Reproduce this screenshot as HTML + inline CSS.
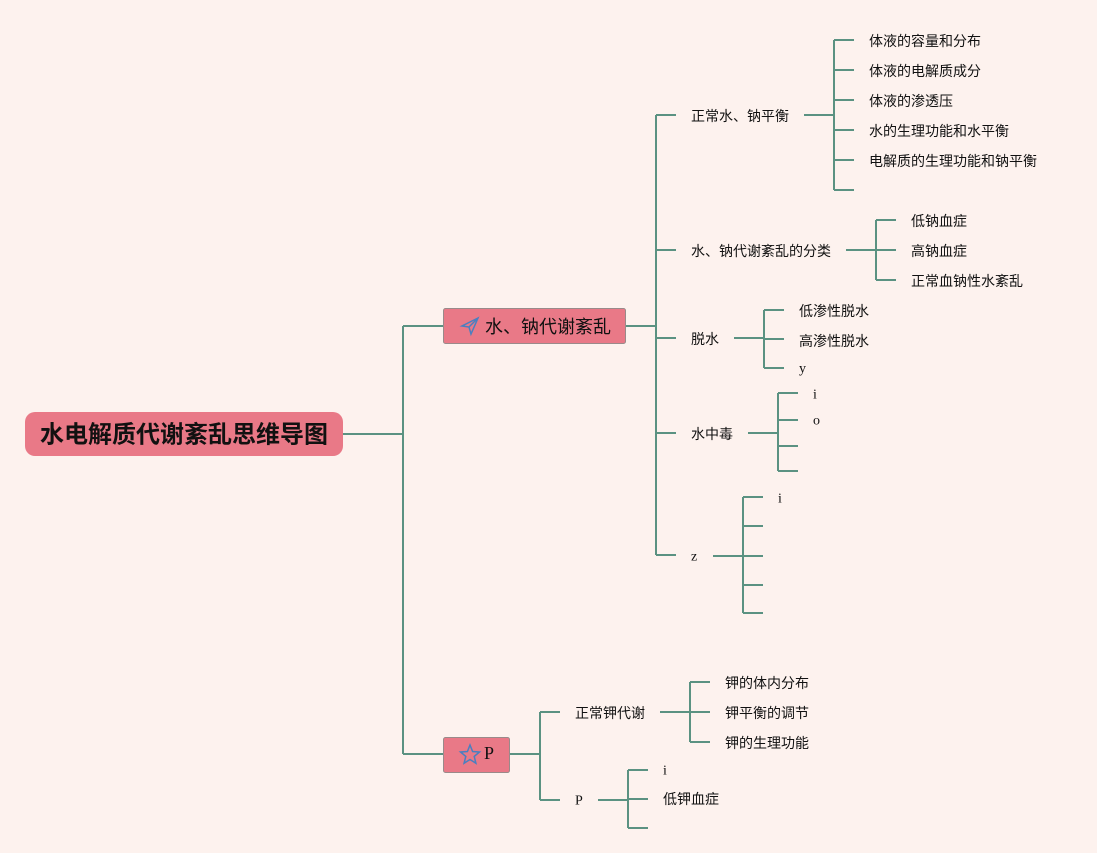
<!DOCTYPE html>
<html><head><meta charset="utf-8"><style>
html,body{margin:0;padding:0;background:#fdf2ee;}
svg{display:block}
text{font-family:"Liberation Sans","Noto Sans CJK SC",sans-serif;font-size:14px;fill:#111;dominant-baseline:central}
.s{font-family:"Liberation Serif","Noto Serif CJK SC",serif}
</style></head><body>
<svg width="1097" height="853" viewBox="0 0 1097 853">
<rect width="1097" height="853" fill="#fdf2ee"/>
<g stroke="#5b9282" stroke-width="2" fill="none">
<path d="M343 434H403M403 326V754M403 326H443M403 754H443"/>
<path d="M626 326H656M656 115V555M656 115H676M656 250H676M656 338H676M656 433H676M656 555H676"/>
<path d="M804 115H834M834 40V190M834 40H854M834 70H854M834 100H854M834 130H854M834 160H854M834 190H854"/>
<path d="M846 250H876M876 220V280M876 220H896M876 250H896M876 280H896"/>
<path d="M734 338H764M764 310V368M764 310H784M764 339H784M764 368H784"/>
<path d="M748 433H778M778 393V471M778 393H798M778 420H798M778 446H798M778 471H798"/>
<path d="M713 556H743M743 497V613M743 497H763M743 526H763M743 556H763M743 585H763M743 613H763"/>
<path d="M510 754H540M540 712V800M540 712H560M540 800H560"/>
<path d="M660 712H690M690 682V742M690 682H710M690 712H710M690 742H710"/>
<path d="M598 800H628M628 770V828M628 770H648M628 799H648M628 828H648"/>
</g>
<rect x="25" y="412" width="318" height="44" rx="10" fill="#e97987"/>
<text x="184" y="435" text-anchor="middle" style="font-size:24px;font-weight:bold">水电解质代谢紊乱思维导图</text>
<rect x="443.5" y="308.5" width="182" height="35" rx="2" fill="#e97987" stroke="#9a8a8a"/>
<path d="M478 318L462 326L469 327L471 334Z M469 327L478 318" fill="none" stroke="#4a7fc0" stroke-width="1.5"/>
<text x="485" y="327" style="font-size:18px">水、钠代谢紊乱</text>
<rect x="443.5" y="737.5" width="66" height="35" rx="2" fill="#e97987" stroke="#9a8a8a"/>
<path d="M470 745L472.6 751.5L479.5 752L474.2 756.4L475.9 763.2L470 759.5L464.1 763.2L465.8 756.4L460.5 752L467.4 751.5Z" fill="none" stroke="#4a7fc0" stroke-width="1.5"/>
<text x="484" y="753" class="s" style="font-size:18px">P</text>
<text x="691" y="116">正常水、钠平衡</text>
<text x="869" y="41">体液的容量和分布</text>
<text x="869" y="71">体液的电解质成分</text>
<text x="869" y="101">体液的渗透压</text>
<text x="869" y="131">水的生理功能和水平衡</text>
<text x="869" y="161">电解质的生理功能和钠平衡</text>
<text x="691" y="251">水、钠代谢紊乱的分类</text>
<text x="911" y="221">低钠血症</text>
<text x="911" y="251">高钠血症</text>
<text x="911" y="281">正常血钠性水紊乱</text>
<text x="691" y="339">脱水</text>
<text x="799" y="311">低渗性脱水</text>
<text x="799" y="341">高渗性脱水</text>
<text x="799" y="369" class="s">y</text>
<text x="691" y="434">水中毒</text>
<text x="813" y="395" class="s">i</text>
<text x="813" y="421" class="s">o</text>
<text x="691" y="557" class="s">z</text>
<text x="778" y="499" class="s">i</text>
<text x="575" y="713">正常钾代谢</text>
<text x="725" y="683">钾的体内分布</text>
<text x="725" y="713">钾平衡的调节</text>
<text x="725" y="743">钾的生理功能</text>
<text x="575" y="801" class="s">P</text>
<text x="663" y="771" class="s">i</text>
<text x="663" y="799">低钾血症</text>
</svg>
</body></html>
